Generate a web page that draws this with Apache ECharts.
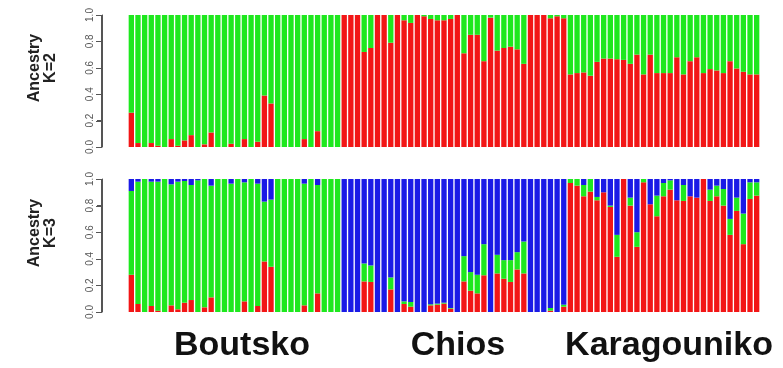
<!DOCTYPE html>
<html>
<head>
<meta charset="utf-8">
<script src="https://cdn.jsdelivr.net/npm/echarts@6/dist/echarts.min.js"></script>
<style>
html,body{margin:0;padding:0;background:#fff;}
#c{width:783px;height:368px;}
</style>
</head>
<body>
<div id="c"></div>
<script>
// ---- data ----
var groups = ["Boutsko", "Chios", "Karagouniko"];
var groupSizes = [32, 34, 29];
var yTicks = ["0.0", "0.2", "0.4", "0.6", "0.8", "1.0"];
var tickValues = [0, 0.2, 0.4, 0.6, 0.8, 1.0];

// K=2 : red (bottom) and green (top)
var k2Red = [
  0.26,0.03,0,0.03,0.01,0,0.06,0.01,0.05,0.09,0,0.02,0.11,0,0,0.025,0,0.06,0,0.04,0.39,0.33,0,0,0,0,0.06,0,0.12,0,0,0,
  1,1,1,0.72,0.75,1,1,0.79,1,0.96,0.94,1,0.99,0.97,0.96,0.96,0.97,1,0.71,0.85,0.85,0.65,0.98,0.73,0.75,0.76,0.74,0.63,1,1,1,0.975,0.99,0.975,
  0.55,0.56,0.565,0.54,0.645,0.67,0.67,0.665,0.66,0.63,0.70,0.55,0.70,0.56,0.56,0.56,0.68,0.55,0.65,0.68,0.56,0.59,0.58,0.56,0.65,0.595,0.57,0.55,0.55
];
var k2Green = [
  0.74,0.97,1,0.97,0.99,1,0.94,0.99,0.95,0.91,1,0.98,0.89,1,1,0.975,1,0.94,1,0.96,0.61,0.67,1,1,1,1,0.94,1,0.88,1,1,1,
  0,0,0,0.28,0.25,0,0,0.21,0,0.04,0.06,0,0.01,0.03,0.04,0.04,0.03,0,0.29,0.15,0.15,0.35,0.02,0.27,0.25,0.24,0.26,0.37,0,0,0,0.025,0.01,0.025,
  0.45,0.44,0.435,0.46,0.355,0.33,0.33,0.335,0.34,0.37,0.30,0.45,0.30,0.44,0.44,0.44,0.32,0.45,0.35,0.32,0.44,0.41,0.42,0.44,0.35,0.405,0.43,0.45,0.45
];

// K=3 : red (bottom), green (middle), blue (top)
var k3Red = [
  0.28,0.06,0,0.045,0.01,0,0.05,0.02,0.07,0.09,0,0.035,0.11,0,0,0,0,0.08,0,0.045,0.38,0.34,0,0,0,0,0.05,0,0.14,0,0,0,
  0,0,0,0.23,0.226,0,0,0.17,0,0.06,0.04,0,0,0.05,0.055,0.063,0.025,0,0.23,0.16,0.14,0.276,0,0.29,0.25,0.226,0.32,0.29,0,0,0,0.01,0,0.04,
  0.97,0.95,0.87,0.905,0.84,0.90,0.79,0.415,1.0,0.80,0.49,0.975,0.81,0.72,0.87,0.92,0.84,0.835,0.87,0.86,1.0,0.835,0.87,0.80,0.58,0.76,0.51,0.85,0.875
];
var k3Green = [
  0.63,0.92,1,0.935,0.97,1,0.91,0.96,0.915,0.865,0.99,0.965,0.84,1,1,0.965,1,0.895,1,0.92,0.45,0.505,1,1,1,1,0.915,1,0.815,1,1,1,
  0,0,0,0.135,0.124,0,0,0.09,0,0.02,0.035,0,0,0.008,0.008,0.007,0.005,0,0.19,0.14,0.14,0.234,0,0.14,0.14,0.164,0.13,0.24,0,0,0,0.02,0,0.015,
  0.03,0.05,0.085,0.095,0.025,0,0.01,0.165,0,0.06,0.11,0.025,0,0.155,0.10,0.07,0,0.12,0,0,0,0.085,0.08,0.125,0.12,0.10,0.23,0.125,0.10
];
var k3Blue = [
  0.09,0.02,0,0.02,0.02,0,0.04,0.02,0.015,0.045,0.01,0,0.05,0,0,0.035,0,0.025,0,0.035,0.17,0.155,0,0,0,0,0.035,0,0.045,0,0,0,
  1,1,1,0.635,0.65,1,1,0.74,1,0.92,0.925,1,1,0.942,0.937,0.93,0.97,1,0.58,0.70,0.72,0.49,1,0.57,0.61,0.61,0.55,0.47,1,1,1,0.97,1,0.945,
  0,0,0.045,0,0.135,0.10,0.20,0.42,0,0.14,0.40,0,0.19,0.125,0.03,0.01,0.16,0.045,0.13,0.14,0,0.08,0.05,0.075,0.30,0.14,0.26,0.025,0.025
];

// ---- chart ----
var individuals = [];
for (var g = 0; g < groups.length; g++) {
  for (var i = 0; i < groupSizes[g]; i++) individuals.push(groups[g] + " " + (i + 1));
}

var RED = "#f21616", GREEN = "#1ee81e", BLUE = "#1a1ae6";
var AXIS_X = 101;       // left edge of the 1px axis line
var AXIS_COLOR = "#555";

function yAxisCfg(idx) {
  return {
    type: "value", gridIndex: idx, min: 0, max: 1, interval: 0.2,
    offset: 26,
    axisLine: {show: true, onZero: false, lineStyle: {color: AXIS_COLOR, width: 1}},
    axisTick: {show: true, length: 5, lineStyle: {color: AXIS_COLOR, width: 1}},
    splitLine: {show: false},
    axisLabel: {
      rotate: 90, margin: 7, fontSize: 10, color: "#555", fontFamily: "Liberation Sans",
      formatter: function (v) { return yTicks[Math.round(v * 5)]; }
    }
  };
}
function xAxisCfg(idx) {
  return {
    type: "category", gridIndex: idx, data: individuals,
    axisLine: {show: false}, axisTick: {show: false}, axisLabel: {show: false}
  };
}
function bar(name, data, color, axisIdx, stack) {
  return {
    name: name, type: "bar", stack: stack, data: data,
    xAxisIndex: axisIdx, yAxisIndex: axisIdx,
    barCategoryGap: "20%",
    itemStyle: {color: color},
    silent: true, animation: false
  };
}

var textGraphics = [
  {type: "text", x: 43, y: 68, rotation: Math.PI / 2,
   style: {text: "Ancestry\nK=2", font: "bold 16px 'Liberation Sans'", fill: "#222", align: "center", verticalAlign: "middle", lineHeight: 16}},
  {type: "text", x: 43, y: 233, rotation: Math.PI / 2,
   style: {text: "Ancestry\nK=3", font: "bold 16px 'Liberation Sans'", fill: "#222", align: "center", verticalAlign: "middle", lineHeight: 16}},
  {type: "text", x: 242, y: 346,
   style: {text: groups[0], font: "bold 34px 'Liberation Sans'", fill: "#111", align: "center", verticalAlign: "middle"}},
  {type: "text", x: 458, y: 346,
   style: {text: groups[1], font: "bold 34px 'Liberation Sans'", fill: "#111", align: "center", verticalAlign: "middle"}},
  {type: "text", x: 669, y: 346,
   style: {text: groups[2], font: "bold 34px 'Liberation Sans'", fill: "#111", align: "center", verticalAlign: "middle"}}
];

var chart = echarts.init(document.getElementById("c"), null, {renderer: "canvas"});
chart.setOption({
  animation: false,
  backgroundColor: "#ffffff",
  grid: [
    {left: 128, width: 632, top: 15, height: 132},
    {left: 128, width: 632, top: 179, height: 133}
  ],
  xAxis: [xAxisCfg(0), xAxisCfg(1)],
  yAxis: [yAxisCfg(0), yAxisCfg(1)],
  series: [
    bar("K2 red", k2Red, RED, 0, "k2"),
    bar("K2 green", k2Green, GREEN, 0, "k2"),
    bar("K3 red", k3Red, RED, 1, "k3"),
    bar("K3 green", k3Green, GREEN, 1, "k3"),
    bar("K3 blue", k3Blue, BLUE, 1, "k3")
  ],
  graphic: textGraphics
});

// axis line and ticks as filled rects, positioned through the value scale
var axisGraphics = [];
[0, 1].forEach(function (yi) {
  var yTop = Math.round(chart.convertToPixel({yAxisIndex: yi}, 1));
  var yBot = Math.round(chart.convertToPixel({yAxisIndex: yi}, 0));
  axisGraphics.push({type: "rect", silent: true, z: 100,
    shape: {x: AXIS_X, y: yTop, width: 1, height: yBot - yTop + 1},
    style: {fill: AXIS_COLOR}});
  tickValues.forEach(function (v) {
    var y = Math.round(chart.convertToPixel({yAxisIndex: yi}, v));
    axisGraphics.push({type: "rect", silent: true, z: 100,
      shape: {x: AXIS_X - 5, y: y, width: 5, height: 1},
      style: {fill: AXIS_COLOR}});
  });
});
chart.setOption({graphic: textGraphics.concat(axisGraphics)});
</script>
</body>
</html>
